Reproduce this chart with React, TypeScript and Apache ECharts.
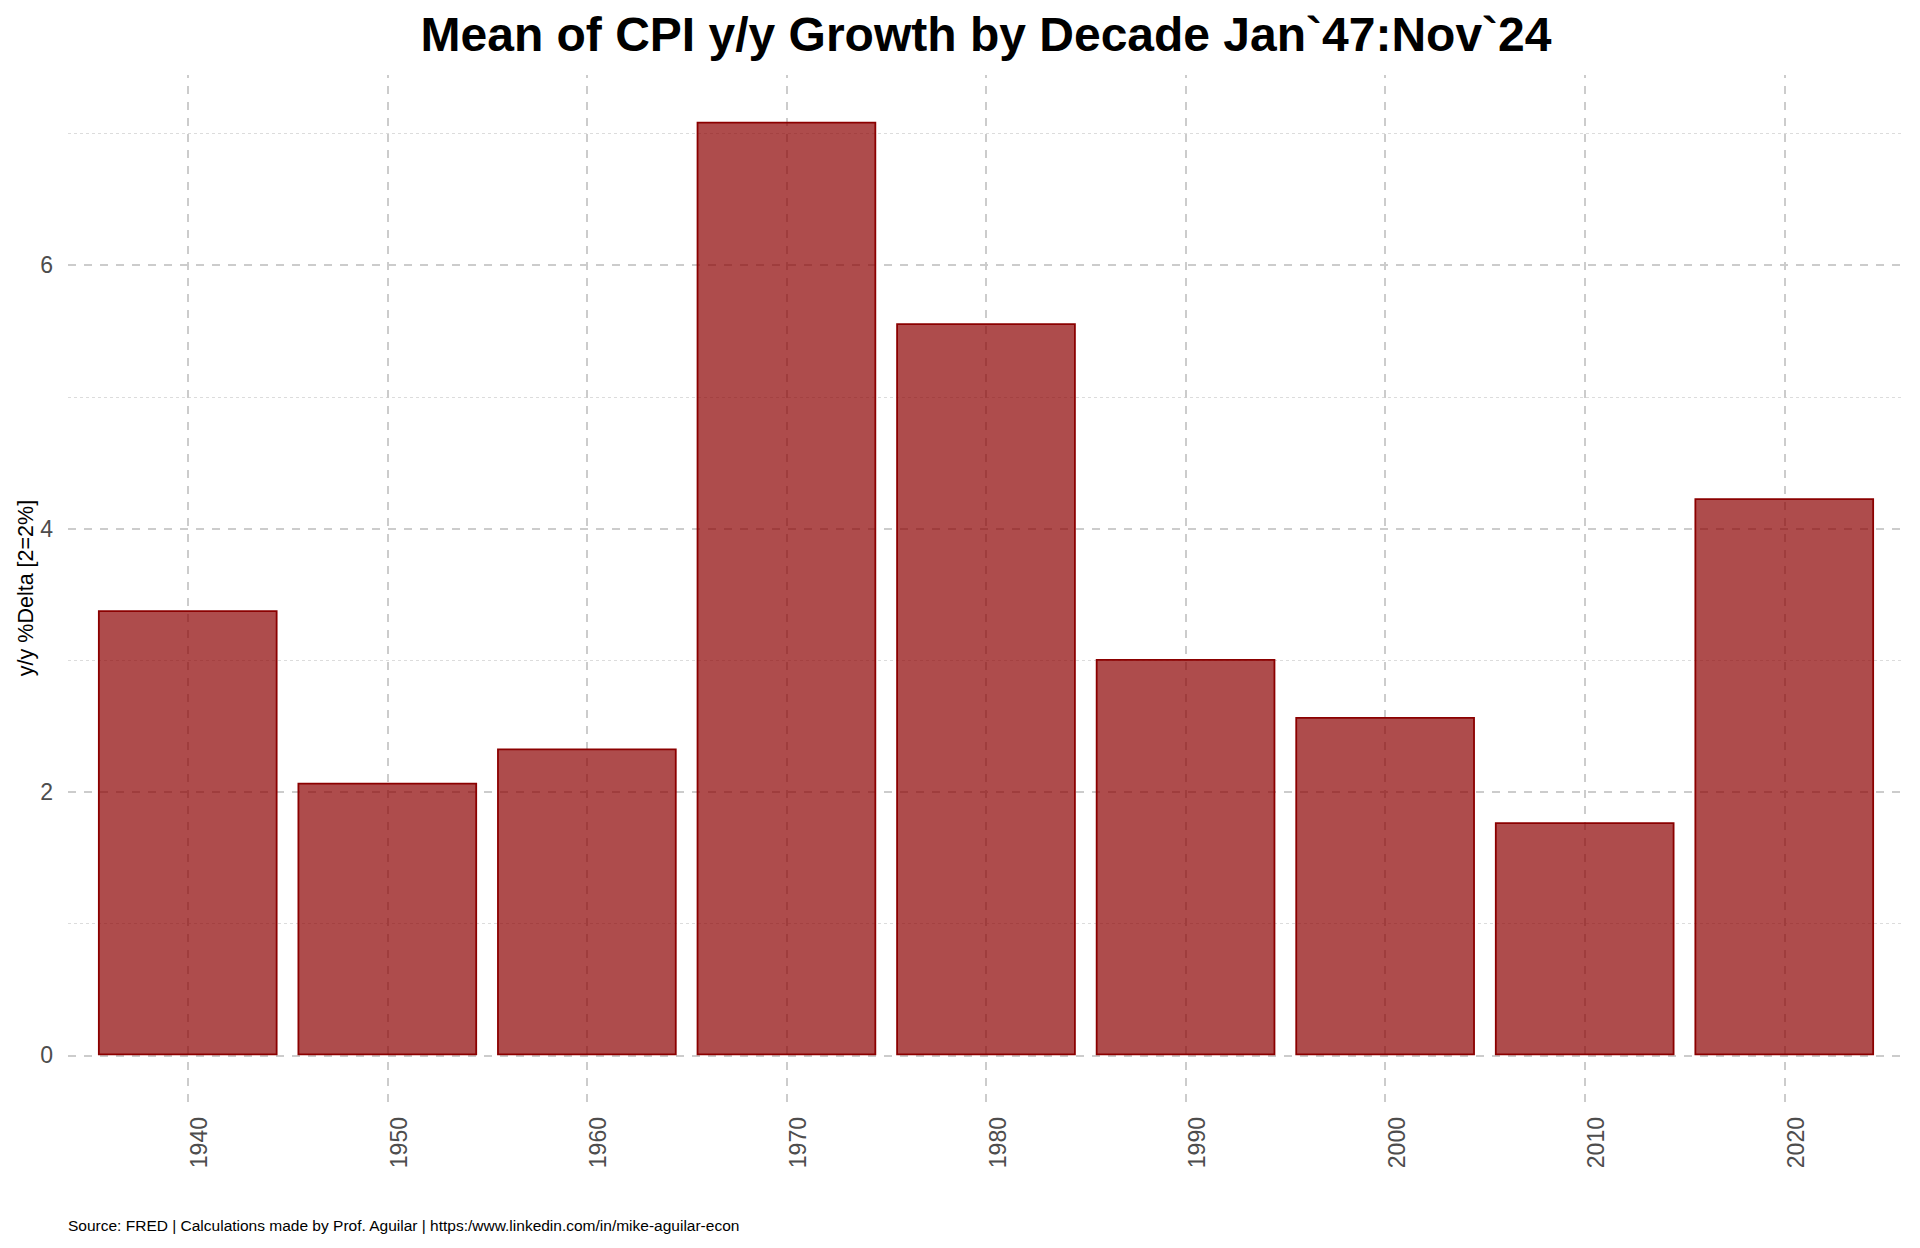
import React, { useEffect, useRef } from 'react';
import * as echarts from 'echarts';

const decades = ['1940', '1950', '1960', '1970', '1980', '1990', '2000', '2010', '2020'];
const meanGrowth = [3.38, 2.07, 2.33, 7.09, 5.56, 3.01, 2.57, 1.77, 4.23];
const majorY = [0, 2, 4, 6];
const minorY = [1, 3, 5, 7];
const titleText = 'Mean of CPI y/y Growth by Decade Jan`47:Nov`24';
const yName = 'y/y %Delta [2=2%]';
const captionText = 'Source: FRED | Calculations made by Prof. Aguilar | https:/www.linkedin.com/in/mike-aguilar-econ';

export default function App() {
  const ref = useRef<HTMLDivElement>(null);
  useEffect(() => {
    document.body.style.margin = '0';
    const chart = echarts.init(ref.current as HTMLDivElement, null, { renderer: 'svg' });
    const positions = decades.map((_, i) => i + 1);
    const maxV = Math.max(...meanGrowth);
    const yMin = -0.05 * maxV;
    const yMax = 1.05 * maxV;
    const font = "'Liberation Sans', Arial, Helvetica, sans-serif";
    const major = { color: '#cccccc', width: 2, type: [8, 8] };
    const minor = { color: '#dcdcdc', width: 1, type: [3, 3] };
    chart.setOption({
      animation: false,
      grid: { left: 68, right: 16, top: 75, bottom: 146, containLabel: false },
      xAxis: {
        type: 'value',
        min: 0.4,
        max: decades.length + 0.6,
        axisLine: { show: false },
        axisTick: { show: false },
        splitLine: { show: false },
        axisLabel: {
          customValues: positions,
          formatter: (v: number) => decades[Math.round(v) - 1] ?? '',
          rotate: 90,
          margin: 15,
          fontSize: 23,
          color: '#4d4d4d',
          fontFamily: font,
          verticalAlign: 'top',
        },
      },
      yAxis: {
        type: 'value',
        min: yMin,
        max: yMax,
        axisLine: { show: false },
        axisTick: { show: false },
        splitLine: { show: false },
        axisLabel: {
          customValues: majorY,
          margin: 15,
          fontSize: 23,
          color: '#4d4d4d',
          fontFamily: font,
        },
      },
      series: [
        {
          type: 'line',
          data: [],
          z: 0,
          silent: true,
          markLine: {
            z: 1,
            silent: true,
            symbol: ['none', 'none'],
            label: { show: false },
            emphasis: { disabled: true },
            data: [
              ...majorY.map((v) => ({ yAxis: v, lineStyle: major })),
              ...minorY.map((v) => ({ yAxis: v, lineStyle: minor })),
              ...positions.map((p) => ({ xAxis: p, lineStyle: major })),
            ],
          },
        },
        {
          type: 'bar',
          z: 3,
          barWidth: 179.6,
          data: positions.map((p, i) => [p, meanGrowth[i]]),
          itemStyle: {
            color: 'rgba(139,0,0,0.7)',
            borderColor: '#8B0000',
            borderWidth: 1.8,
          },
          emphasis: { disabled: true },
        },
      ],
      graphic: [
        {
          type: 'text',
          x: 986,
          y: 34,
          style: {
            text: titleText,
            fontSize: 48,
            fontWeight: 'bold',
            fontFamily: font,
            fill: '#000000',
            align: 'center',
            verticalAlign: 'middle',
          },
        },
        {
          type: 'text',
          x: 26,
          y: 588,
          rotation: Math.PI / 2,
          style: {
            text: yName,
            fontSize: 21.5,
            fontFamily: font,
            fill: '#000000',
            align: 'center',
            verticalAlign: 'middle',
          },
        },
        {
          type: 'text',
          x: 68,
          y: 1225,
          style: {
            text: captionText,
            fontSize: 15.5,
            fontFamily: font,
            fill: '#000000',
            align: 'left',
            verticalAlign: 'middle',
          },
        },
      ],
    });
    return () => chart.dispose();
  }, []);
  return <div ref={ref} style={{ width: 1920, height: 1248 }} />;
}
